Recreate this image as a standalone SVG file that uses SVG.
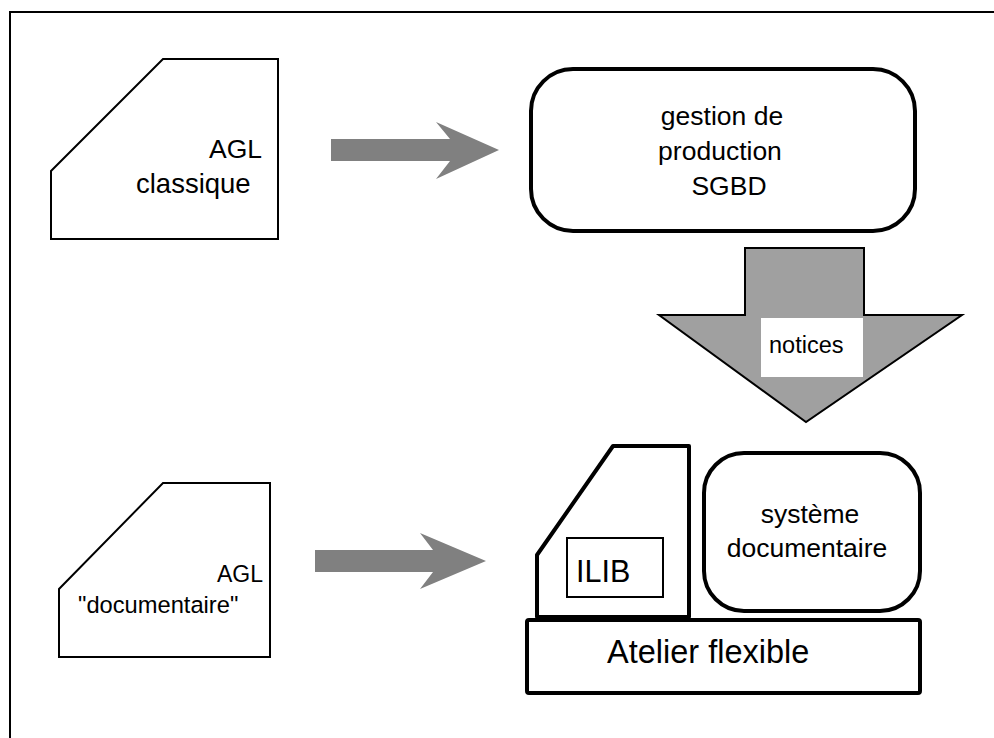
<svg xmlns="http://www.w3.org/2000/svg" width="994" height="738" viewBox="0 0 994 738">
<style>
text{font-family:"Liberation Sans",Arial,sans-serif;fill:#000}
.thin{fill:#fff;stroke:#000;stroke-width:2;stroke-linejoin:miter}
.thick{fill:#fff;stroke:#000;stroke-width:4;stroke-linejoin:round}
.garrow{fill:#808080;stroke:none}
</style>
<rect width="994" height="738" fill="#fff"/>
<polyline points="10,738 10,12 994,12" fill="none" stroke="#000" stroke-width="2"/>
<g id="agl-classique">
<polygon class="thin" points="51,171 163,59 278,59 278,239 51,239"/>
<text x="262" y="158" font-size="26.5" text-anchor="end">AGL</text>
<text x="136" y="193" font-size="27.5">classique</text>
</g>
<g id="gestion">
<rect class="thick" x="531" y="69" width="384" height="162" rx="42"/>
<text x="722" y="125" font-size="26.5" text-anchor="middle">gestion de</text>
<text x="720" y="160" font-size="26.5" text-anchor="middle">production</text>
<text x="729" y="195" font-size="26.5" text-anchor="middle">SGBD</text>
</g>
<g id="agl-documentaire">
<polygon class="thin" points="59,589 163,483 270,483 270,657 59,657"/>
<text x="263" y="582" font-size="23" text-anchor="end">AGL</text>
<text x="78" y="613" font-size="23.7">"documentaire"</text>
</g>
<g id="ilib">
<polygon class="thick" points="537,617 537,555 613,446 689,446 689,617"/>
<rect x="567" y="538" width="96" height="59" fill="#fff" stroke="#000" stroke-width="2"/>
<text x="576" y="582" font-size="30.5">ILIB</text>
</g>
<g id="systeme">
<rect class="thick" x="704" y="453" width="216" height="158" rx="40"/>
<text x="810" y="523" font-size="26.5" text-anchor="middle">système</text>
<text x="807" y="557" font-size="26.5" text-anchor="middle">documentaire</text>
</g>
<g id="atelier">
<rect class="thick" x="527" y="620" width="393" height="73" rx="2"/>
<text x="607" y="663" font-size="32.5">Atelier flexible</text>
</g>
<g id="connectors">
<polygon class="garrow" points="331,139 450,139 436,122 499,150 436,179 450,161 331,161"/>
<polygon class="garrow" points="315,550 433,550 420,533 486,561 420,589 433,572 315,572"/>
<g id="notices">
<polygon fill="#a0a0a0" stroke="#000" stroke-width="2" stroke-linejoin="miter" points="745,248 864,248 864,315 962,315 806,422 659,315 745,315"/>
<rect x="761" y="318" width="102" height="59" fill="#fff"/>
<text x="769" y="353" font-size="23.5">notices</text>
</g>
</g>
</svg>
